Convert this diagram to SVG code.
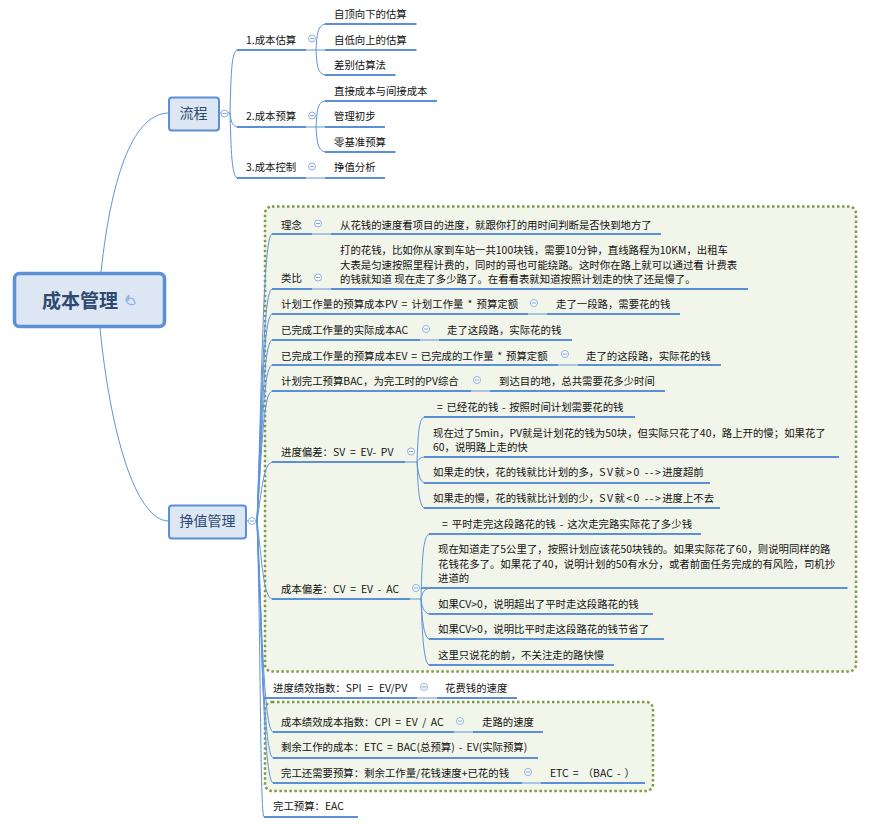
<svg xmlns="http://www.w3.org/2000/svg" width="872" height="825" viewBox="0 0 872 825">
<defs>
<style>
text{font-family:"Noto Sans CJK SC","Noto Sans",sans-serif;font-size:10.4px;fill:#111}
.bar{stroke:#5b8fd6;stroke-width:2;fill:none}
.c{stroke:#5f93d8;stroke-width:1;fill:none}
.box{fill:#f1f5ea;stroke:#7f9a45;stroke-width:2.500;stroke-dasharray:2.500 2.500}
.n1{fill:#dde6f3;stroke:#5b8fd6;stroke-width:2}
.n1t{font-size:14px;fill:#2f4a70}
.col{fill:#fff;stroke:#8fb0e0;stroke-width:1}
.dash{stroke:#7ea6dd;stroke-width:1}
.ls{letter-spacing:1.500px}
</style>
<g id="collapse"><circle class="col" r="3.500"/><line class="dash" x1="-2" x2="2" y1="0" y2="0"/></g>
</defs>
<rect width="872" height="825" fill="#fff"/>
<rect class="box" x="265" y="206.500" width="591" height="465" rx="7"/>
<rect class="box" x="265" y="702" width="388" height="89" rx="7"/>
<g id="connectors">
<path class="c" d="M101 272C112 170 135 113 169 113"/>
<path class="c" d="M100 328C110 430 135 521 169 521"/>
<path class="c" d="M219 113H230M230 113C231 80 231 52 237 50M230 113C231 120 231 125 237 127M230 113C231 140 231 175 237 178"/>
<path class="c" d="M306 50H316M316 50C317 35 317 26 325 24M316 50H325M316 50C317 65 317 73 325 75"/>
<path class="c" d="M306 127H316M316 127C317 112 317 102 325 101M316 127H325M316 127C317 140 317 150 325 152"/>
<path class="c" d="M306 178H325"/>
<path class="c" d="M246 521H257"/>
<path class="c" d="M257 521C262 380 263 237 272 234M257 521C262 400 263 292 272 289M257 521C262 410 263 317 272 314M257 521C262 430 263 343 272 340M257 521C262 440 263 368 272 365M257 521C262 450 263 394 272 391M257 521C262 490 263 465 272 462"/>
<path class="c" d="M257 521C262 560 263 596 272 599M257 521C262 610 262 695 264 698M257 521C262 630 264 729 273 732M257 521C262 640 264 755 273 758M257 521C262 650 264 780 273 783M257 521C261 650 260 814 264 817"/>
<path class="c" d="M312 234H331M312 289H331M528 314H547M420 340H439M558 365H578M471 391H490"/>
<path class="c" d="M405 462H417M417 462C418 440 418 420 424 417M417 462C418 460 419 458 424 457M417 462C418 470 419 481 424 483M417 462C418 480 418 505 424 508"/>
<path class="c" d="M410 599H421M421 599C422 570 422 537 429 534M421 599C422 594 423 590 429 588M421 599C422 606 423 612 429 614M421 599C422 615 423 636 429 639M421 599C422 625 423 662 429 665"/>
<path class="c" d="M417 698H437M454 732H473M522 783H541"/>
</g>
<g id="root"><rect x="14.500" y="273.500" width="150" height="53" rx="5" fill="#dde6f3" stroke="#5b8fd6" stroke-width="3.500"/><text x="42" y="308" style="font-size:19px;font-weight:700;fill:#2f4a70">成本管理</text><path d="M135 304C130 306 126 303 126 299L129 295M129 295L128 301M127 300C131 296 135 299 135 304" fill="none" stroke="#8fb4e6" stroke-width="1.300"/></g>
<g id="liucheng"><rect class="n1" x="169" y="97.500" width="50" height="33" rx="3"/><text class="n1t" x="179.500" y="118">流程</text><use href="#collapse" x="224.500" y="113.500"/></g>
<g id="n-gusuan"><path class="bar" d="M237 50H306"/><text x="246" y="43.500">1.成本估算</text><use href="#collapse" x="312" y="38.500"/></g>
<g id="n-yusuan"><path class="bar" d="M237 127H306"/><text x="246" y="120">2.成本预算</text><use href="#collapse" x="312" y="115.500"/></g>
<g id="n-kongzhi"><path class="bar" d="M237 178H306"/><text x="246" y="171">3.成本控制</text><use href="#collapse" x="312" y="166.500"/></g>
<g id="n-a1"><path class="bar" d="M325 24H416.500"/><text x="334" y="17.500">自顶向下的估算</text></g>
<g id="n-a2"><path class="bar" d="M325 50H416.500"/><text x="334" y="43.500">自低向上的估算</text></g>
<g id="n-a3"><path class="bar" d="M325 75H395.500"/><text x="334" y="69">差别估算法</text></g>
<g id="n-b1"><path class="bar" d="M325 101H437"/><text x="334" y="94.500">直接成本与间接成本</text></g>
<g id="n-b2"><path class="bar" d="M325 127H385"/><text x="334" y="120">管理初步</text></g>
<g id="n-b3"><path class="bar" d="M325 152H395.500"/><text x="334" y="145.500">零基准预算</text></g>
<g id="n-c1"><path class="bar" d="M325 178H385"/><text x="334" y="171">挣值分析</text></g>
<g id="zhengzhi"><rect class="n1" x="169" y="505.500" width="77" height="33" rx="3"/><text class="n1t" x="179.500" y="526">挣值管理</text><use href="#collapse" x="252" y="521"/></g>
<g id="n-linian"><path class="bar" d="M272 234H312M331 234H661"/><text x="281" y="228.500">理念</text><use href="#collapse" x="318" y="223.500"/><text x="340" y="228.500">从花钱的速度看项目的进度，就跟你打的用时间判断是否快到地方了</text></g>
<g id="n-leibi"><path class="bar" d="M272 289H312M331 289H748"/><text x="281" y="282">类比</text><use href="#collapse" x="318" y="277.500"/><text x="340" y="253.500">打的花钱，比如你从家到车站一共100块钱，需要10分钟，直线路程为10KM，出租车</text><text x="340" y="268.500">大表是匀速按照里程计费的，同时的哥也可能绕路。这时你在路上就可以通过看 计费表</text><text x="340" y="283">的钱就知道 现在走了多少路了。在看看表就知道按照计划走的快了还是慢了。</text></g>
<g id="n-pv"><path class="bar" d="M272 314H528M547 314H680"/><text x="281" y="308" word-spacing="1.800">计划工作量的预算成本PV = 计划工作量 * 预算定额</text><use href="#collapse" x="534" y="303"/><text x="556" y="308">走了一段路，需要花的钱</text></g>
<g id="n-ac"><path class="bar" d="M272 340H420M439 340H572"/><text x="281" y="334" >已完成工作量的实际成本AC</text><use href="#collapse" x="426" y="329"/><text x="447" y="334">走了这段路，实际花的钱</text></g>
<g id="n-ev"><path class="bar" d="M272 365H558M578 365H721"/><text x="281" y="359.500" word-spacing="1.500">已完成工作量的预算成本EV = 已完成的工作量 * 预算定额</text><use href="#collapse" x="565" y="354"/><text x="586" y="359.500">走了的这段路，实际花的钱</text></g>
<g id="n-bac"><path class="bar" d="M272 391H471M490 391H665"/><text x="281" y="385">计划完工预算BAC，为完工时的PV综合</text><use href="#collapse" x="477" y="380"/><text x="499" y="385">到达目的地，总共需要花多少时间</text></g>
<g id="n-sv"><path class="bar" d="M272 462H405"/><text x="281" y="456" word-spacing="2.500">进度偏差：SV = EV- PV</text><use href="#collapse" x="411" y="451.500"/></g>
<g id="n-sv1"><path class="bar" d="M424 417H635"/><text x="437" y="410.500" word-spacing="1.300">= 已经花的钱 - 按照时间计划需要花的钱</text></g>
<g id="n-sv2"><path class="bar" d="M424 457H839"/><text x="433" y="436.500">现在过了5min，PV就是计划花的钱为50块，但实际只花了40，路上开的慢；如果花了</text><text x="433" y="450.500">60，说明路上走的快</text></g>
<g id="n-sv3"><path class="bar" d="M424 483H710"/><text x="433" y="476">如果走的快，花的钱就比计划的多，<tspan class="ls">SV就&gt;0 --&gt;</tspan>进度超前</text></g>
<g id="n-sv4"><path class="bar" d="M424 508H720"/><text x="433" y="502">如果走的慢，花的钱就比计划的少，<tspan class="ls">SV就&lt;0 --&gt;</tspan>进度上不去</text></g>
<g id="n-cv"><path class="bar" d="M272 599H410"/><text x="281" y="593" word-spacing="2.500">成本偏差：CV = EV - AC</text><use href="#collapse" x="416" y="588"/></g>
<g id="n-cv1"><path class="bar" d="M429 534H701"/><text x="442" y="527.500" word-spacing="1.700">= 平时走完这段路花的钱 - 这次走完路实际花了多少钱</text></g>
<g id="n-cv2"><path class="bar" d="M421 588H847.500"/><text x="438" y="553">现在知道走了5公里了，按照计划应该花50块钱的。如果实际花了60，则说明同样的路</text><text x="438" y="567.500">花钱花多了。如果花了40，说明计划的50有水分，或者前面任务完成的有风险，司机抄</text><text x="438" y="581.500">进道的</text></g>
<g id="n-cv3"><path class="bar" d="M429 614H653"/><text x="438" y="607.500">如果CV&gt;0，说明超出了平时走这段路花的钱</text></g>
<g id="n-cv4"><path class="bar" d="M429 639H664"/><text x="438" y="633">如果CV&gt;0，说明比平时走这段路花的钱节省了</text></g>
<g id="n-cv5"><path class="bar" d="M429 665H614"/><text x="438" y="658.500">这里只说花的前，不关注走的路快慢</text></g>
<g id="n-spi"><path class="bar" d="M264 698H417M437 698H517"/><text x="273" y="692" word-spacing="3.500">进度绩效指数：SPI = EV/PV</text><use href="#collapse" x="424" y="687"/><text x="445" y="692">花费钱的速度</text></g>
<g id="n-cpi"><path class="bar" d="M273 732H454M473 732H543"/><text x="281" y="726" word-spacing="2.200">成本绩效成本指数：CPI = EV / AC</text><use href="#collapse" x="460" y="721"/><text x="482" y="726">走路的速度</text></g>
<g id="n-etc"><path class="bar" d="M273 758H538"/><text x="281" y="751" word-spacing="1.800">剩余工作的成本：ETC = BAC(总预算) - EV(实际预算)</text></g>
<g id="n-need"><path class="bar" d="M273 783H522M541 783H645"/><text x="281" y="777">完工还需要预算：剩余工作量/花钱速度+已花的钱</text><use href="#collapse" x="528" y="772"/><text x="550" y="777" word-spacing="1.800">ETC = （BAC - ）</text></g>
<g id="n-eac"><path class="bar" d="M264 817H358"/><text x="273" y="810">完工预算：EAC</text></g>
</svg>
